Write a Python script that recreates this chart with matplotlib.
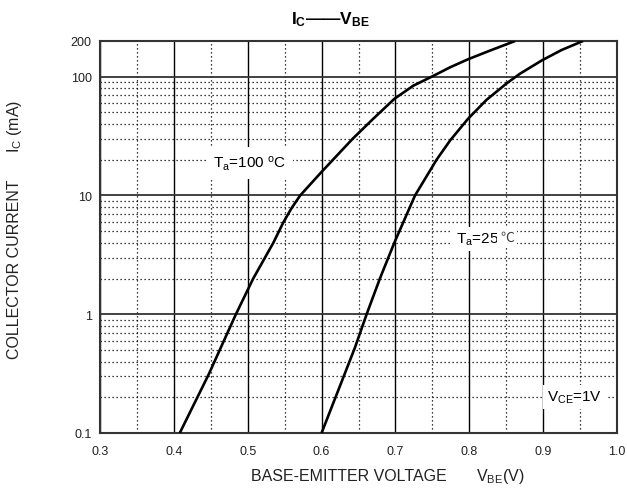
import matplotlib
matplotlib.use("Agg")
import matplotlib.pyplot as plt
import matplotlib.transforms as mtransforms
from matplotlib.ticker import FixedLocator, NullFormatter

plt.rcParams['font.family'] = ['Liberation Sans', 'Noto Sans CJK SC', 'DejaVu Sans']
plt.rcParams['mathtext.fontset'] = 'custom'
plt.rcParams['mathtext.rm'] = 'Liberation Sans'
plt.rcParams['mathtext.it'] = 'Liberation Sans'
plt.rcParams['mathtext.bf'] = 'Liberation Sans:bold'

# ---- data ----
vbe_100 = [0.408, 0.447, 0.484, 0.5075, 0.5347, 0.548, 0.5595, 0.571, 0.600, 0.642,
           0.670, 0.6985, 0.7242, 0.749, 0.7739, 0.7986, 0.828, 0.862]
ic_100 = [0.1, 0.31, 1.0, 2.0, 4.0, 5.9, 7.85, 10, 15.8, 30,
          44.3, 65.1, 84.1, 100, 120, 140.6, 166, 200]

vbe_25 = [0.600, 0.645, 0.661, 0.679, 0.6985, 0.7265, 0.7557, 0.7739, 0.7986, 0.8235,
          0.8506, 0.8686, 0.898, 0.925, 0.954]
ic_25 = [0.1, 0.52, 1.0, 2.0, 4.0, 10, 20, 29, 44.5, 64,
         88, 106, 137, 168, 200]

x_major = [0.3, 0.4, 0.5, 0.6, 0.7, 0.8, 0.9, 1.0]
x_labels = ['0.3', '0.4', '0.5', '0.6', '0.7', '0.8', '0.9', '1.0']
x_minor = [0.35, 0.45, 0.55, 0.65, 0.75, 0.85, 0.95]
y_major = [0.1, 1, 10, 100, 200]
y_labels = ['0.1', '1', '10', '100', '200']
y_minor = [0.2, 0.3, 0.4, 0.5, 0.6, 0.7, 0.8, 0.9,
           2, 3, 4, 5, 6, 7, 8, 9,
           20, 30, 40, 50, 60, 70, 80, 90]

fig = plt.figure(figsize=(6.27, 4.89), dpi=100)
ax = fig.add_axes([100/627, 1-434/489, 517/627, 392/489])
ax.set_yscale('log')
ax.set_xlim(0.3, 1.0)
ax.set_ylim(0.1, 200)

ax.xaxis.set_major_locator(FixedLocator(x_major))
ax.set_xticklabels(x_labels)
ax.xaxis.set_minor_locator(FixedLocator(x_minor))
ax.yaxis.set_major_locator(FixedLocator(y_major))
ax.set_yticklabels(y_labels)
ax.yaxis.set_minor_locator(FixedLocator(y_minor))
ax.yaxis.set_minor_formatter(NullFormatter())
ax.tick_params(which='both', length=0, labelsize=9, colors='#222222')
ax.tick_params(axis='x', pad=9)
ax.tick_params(axis='y', pad=6)

ax.set_axisbelow(True)
ax.grid(True, which='major', axis='x', color='black', lw=1.0, ls='-')
ax.grid(True, which='major', axis='y', color='#333333', lw=1.3, ls='-')
ax.grid(True, which='minor', axis='both', color='black', lw=0.9, ls=(0, (1, 2.2)))

for s in ax.spines.values():
    s.set_color('#333333')
    s.set_linewidth(1.5)

ax.plot(vbe_100, ic_100, color='black', lw=1.9, solid_capstyle='butt',
        solid_joinstyle='round', zorder=4)
ax.plot(vbe_25, ic_25, color='black', lw=1.9, solid_capstyle='butt',
        solid_joinstyle='round', zorder=4)

box = dict(facecolor='white', edgecolor='none', pad=3)
fig.text(213/627, 1-164/489, r'T$_\mathrm{a}$=100 $^\mathrm{o}$C', fontsize=11,
         va='center', ha='left', bbox=dict(facecolor='white', edgecolor='none', pad=5), zorder=5)
t25 = fig.text(456/627, 1-240/489, r'T$_\mathrm{a}$=25', fontsize=11,
               va='center', ha='left', bbox=box, zorder=5)
deg = fig.text(0, 0, '℃', fontsize=10, color='#444444', ha='left', va='top',
               family=['Noto Sans CJK SC', 'DejaVu Sans'], zorder=5,
               bbox=dict(facecolor='white', edgecolor='none', pad=2))
# position the degree sign right after the T_a=25 text
fig.canvas.draw()
r = fig.canvas.get_renderer()
bb = t25.get_window_extent(r)
deg.set_transform(mtransforms.IdentityTransform())
deg.set_position((bb.x1 + 1, bb.y1 + 1))

fig.text(547/627, 1-398/489, r'V$_\mathrm{CE}$=1V', fontsize=11,
         va='center', ha='left', bbox=box, zorder=5)

# title
fig.text(331/627, 1-20/489, r'$\mathbf{I_C}$——$\mathbf{V_{BE}}$', fontsize=12.5,
         fontweight='bold', ha='center', va='center')

# axis labels
fig.text(15/627, 1-269/489, 'COLLECTOR CURRENT', rotation=90, fontsize=11.5,
         ha='center', va='center', color='#222222')
fig.text(15/627, 1-126/489, r'I$_\mathrm{C}$ (mA)', rotation=90, fontsize=11.5,
         ha='center', va='center', color='#222222')
fig.text(349/627, 1-477/489, 'BASE-EMITTER VOLTAGE', fontsize=11.5,
         ha='center', va='center', color='#222222')
fig.text(500/627, 1-477/489, r'V$_\mathrm{BE}$(V)', fontsize=11.5,
         ha='center', va='center', color='#222222')

fig.savefig('out.png', dpi=100)
